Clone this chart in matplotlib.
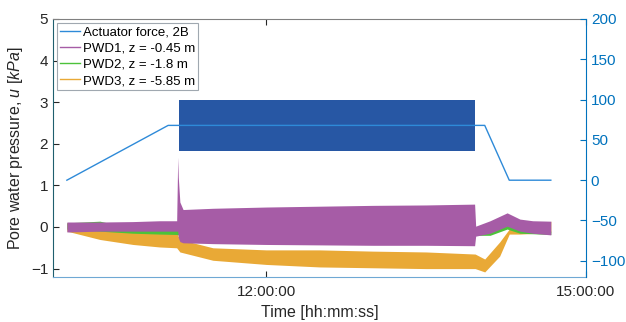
import matplotlib
matplotlib.use("Agg")
import matplotlib.pyplot as plt

plt.rcParams['font.family'] = ['Liberation Sans', 'DejaVu Sans']
plt.rcParams['mathtext.fontset'] = 'custom'
plt.rcParams['mathtext.it'] = 'Liberation Sans:italic'
plt.rcParams['mathtext.rm'] = 'Liberation Sans'

# time in hours of the day
xtick_pos = [12, 15]
xtick_labels = ['12:00:00', '15:00:00']

# actuator force (right axis), ramp / hold / unload
act_t = [10.13, 11.08, 14.05, 14.28, 14.67]
act_f = [0, 68, 68, 0, 0]
# cyclic part of actuator force, drawn as its envelope
cyc_t = [11.18, 13.96]
cyc_min = [36, 36]
cyc_max = [100, 100]

# PWD1, z = -0.45 m  (envelope of the noisy record)
pwd1_t = [10.13, 10.44, 10.75, 11.0, 11.16, 11.17, 11.175, 11.19, 11.22, 11.5, 12.0, 12.5,
          13.0, 13.5, 13.955, 13.965, 14.1, 14.26, 14.38, 14.5, 14.67]
pwd1_hi = [0.12, 0.12, 0.13, 0.15, 0.15, 1.68, 1.2, 0.6, 0.42, 0.45, 0.48, 0.5,
           0.52, 0.53, 0.55, 0.02, 0.15, 0.34, 0.19, 0.15, 0.14]
pwd1_lo = [-0.12, -0.1, -0.1, -0.1, -0.1, -0.1, -0.25, -0.35, -0.38, -0.4, -0.42, -0.43,
           -0.44, -0.44, -0.45, -0.22, -0.15, 0.02, -0.1, -0.15, -0.19]

# PWD2, z = -1.8 m
pwd2_t = [10.13, 10.44, 10.75, 11.0, 11.16, 11.3, 12.0, 13.0, 13.96, 14.1, 14.26, 14.38, 14.67]
pwd2_hi = [0.1, 0.14, -0.04, -0.06, -0.07, -0.2, -0.25, -0.25, -0.05, 0.0, 0.1, -0.05, -0.1]
pwd2_lo = [-0.05, -0.1, -0.15, -0.17, -0.18, -0.3, -0.35, -0.35, -0.2, -0.2, -0.05, -0.15, -0.18]

# PWD3, z = -5.85 m
pwd3_t = [10.13, 10.44, 10.75, 11.0, 11.16, 11.19, 11.5, 12.0, 12.5, 13.0, 13.5, 13.96,
          14.05, 14.19, 14.28, 14.38, 14.55, 14.67]
pwd3_hi = [0.1, -0.05, -0.1, -0.13, -0.15, -0.3, -0.5, -0.55, -0.55, -0.58, -0.6, -0.65,
           -0.77, -0.36, -0.05, -0.1, -0.05, 0.14]
pwd3_lo = [-0.1, -0.3, -0.42, -0.48, -0.5, -0.6, -0.8, -0.9, -0.96, -0.98, -1.0, -1.0,
           -1.08, -0.7, -0.17, -0.17, -0.15, -0.12]

c_act = '#2e8ad8'
c_cyc = '#2757a4'
c_p1 = '#a65ca6'
c_p2 = '#4cc23a'
c_p3 = '#e9a936'
c_axis = '#0072bd'
c_text = '#262626'

fig = plt.figure(figsize=(6.26, 3.22), dpi=100)
ax = fig.add_axes([0.0847, 0.140, 0.8514, 0.801])

ax.fill_between(pwd3_t, pwd3_lo, pwd3_hi, color=c_p3, lw=0)
ax.fill_between(pwd2_t, pwd2_lo, pwd2_hi, color=c_p2, lw=0)
ax.fill_between(pwd1_t, pwd1_lo, pwd1_hi, color=c_p1, lw=0)

ax.set_xlim(10, 15)
ax.set_ylim(-1.2, 5)
ax.set_yticks([-1, 0, 1, 2, 3, 4, 5])
ax.set_xticks(xtick_pos)
ax.set_xticklabels(xtick_labels)
ax.tick_params(axis='both', direction='in', length=4, labelsize=11, colors=c_text)
ax.tick_params(axis='x', top=True, pad=6)
ax.set_ylabel('Pore water pressure, $\\it{u\\ [kPa]}$', fontsize=11.5, color=c_text, labelpad=4)
ax.set_xlabel('Time [hh:mm:ss]', fontsize=11.5, color=c_text, labelpad=4)
ax.spines['left'].set_color('#1f5f6e')
ax.spines['bottom'].set_color('#6fa8d4')
ax.spines['top'].set_color('#808080')
ax.spines['right'].set_visible(False)

ax2 = ax.twinx()
ax2.plot(act_t, act_f, color=c_act, lw=1)
ax2.fill_between(cyc_t, cyc_min, cyc_max, color=c_cyc, lw=0)
ax2.set_ylim(-120, 200)
ax2.set_yticks([-100, -50, 0, 50, 100, 150, 200])
ax2.tick_params(axis='y', direction='in', length=4, labelsize=11, colors=c_axis)
for s in ['left', 'top', 'bottom']:
    ax2.spines[s].set_visible(False)
ax2.spines['right'].set_color(c_axis)

# legend proxies
ax2.plot([], [], color=c_act, lw=1, label='Actuator force, 2B')
ax2.plot([], [], color=c_p1, lw=1, label='PWD1, z = -0.45 m')
ax2.plot([], [], color=c_p2, lw=1, label='PWD2, z = -1.8 m')
ax2.plot([], [], color=c_p3, lw=1, label='PWD3, z = -5.85 m')
leg = ax2.legend(loc='upper left', fontsize=9.5, fancybox=False,
                 framealpha=1, edgecolor='#a0a8b0', borderpad=0.25, labelspacing=0.3,
                 handlelength=1.5, handletextpad=0.2, borderaxespad=0.3)
leg.get_frame().set_linewidth(0.8)

fig.savefig('out.png', dpi=100)
